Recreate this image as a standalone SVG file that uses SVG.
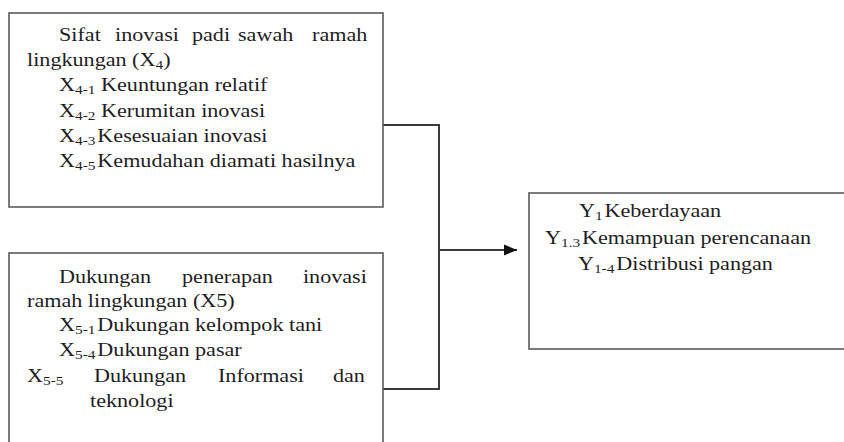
<svg xmlns="http://www.w3.org/2000/svg" width="844" height="442" viewBox="0 0 844 442">
  <defs>
    <style>
      .box { fill: #ffffff; stroke: #5a5a5a; stroke-width: 1.6; }
      .txt { font-family: "Liberation Serif", "DejaVu Serif", serif; font-size: 18px; fill: #1e1e1e; }
      .sub { font-size: 12.5px; }
      .wire { fill: none; stroke: #3a3a3a; stroke-width: 2; }
    </style>
    <marker id="arrow" markerWidth="14" markerHeight="12" refX="13" refY="6" orient="auto" markerUnits="userSpaceOnUse">
      <path d="M0,0.5 L13,6 L0,11.5 Z" fill="#111111"/>
    </marker>
  </defs>
  <rect width="844" height="442" fill="#ffffff"/>

  <!-- Connectors: both inputs merge into one arrow to the outcome box -->
  <g id="connectors">
    <polyline class="wire" points="383,125 439,125 439,389 383,389"/>
    <line class="wire" x1="439" y1="250" x2="517" y2="250" marker-end="url(#arrow)"/>
  </g>

  <!-- X4: properties of the eco-friendly rice innovation
       (text is set in a 1.23x horizontally widened frame; x values are divided by 1.23) -->
  <g id="x4">
    <rect class="box" x="9" y="13" width="374" height="194"/>
    <g class="txt" transform="scale(1.23 1)">
      <text y="41"><tspan x="48">Sifat</tspan><tspan x="93.5">inovasi</tspan><tspan x="156.1">padi</tspan><tspan x="193.5">sawah</tspan><tspan x="253.7">ramah</tspan></text>
      <text x="22" y="66">lingkungan (X<tspan class="sub" dy="3">4</tspan><tspan dy="-3">)</tspan></text>
      <text x="48" y="91">X<tspan class="sub" dy="3">4-1</tspan><tspan dy="-3"> Keuntungan  relatif</tspan></text>
      <text x="48" y="117">X<tspan class="sub" dy="3">4-2</tspan><tspan dy="-3"> Kerumitan  inovasi</tspan></text>
      <text x="48" y="142">X<tspan class="sub" dy="3">4-3</tspan><tspan dx="1.5" dy="-3">Kesesuaian inovasi</tspan></text>
      <text x="48" y="167">X<tspan class="sub" dy="3">4-5</tspan><tspan dx="1.5" dy="-3">Kemudahan diamati hasilnya</tspan></text>
    </g>
  </g>

  <!-- X5: support for applying the innovation -->
  <g id="x5">
    <rect class="box" x="9" y="253" width="374" height="200"/>
    <g class="txt" transform="scale(1.23 1)">
      <text y="283"><tspan x="48">Dukungan</tspan><tspan x="148">penerapan</tspan><tspan x="246.3">inovasi</tspan></text>
      <text x="22" y="307">ramah lingkungan (X5)</text>
      <text x="48" y="331">X<tspan class="sub" dy="3">5-1</tspan><tspan dx="1.5" dy="-3">Dukungan kelompok tani</tspan></text>
      <text x="48" y="356">X<tspan class="sub" dy="3">5-4</tspan><tspan dx="1.5" dy="-3">Dukungan pasar</tspan></text>
      <text y="382"><tspan x="22">X</tspan><tspan class="sub" dy="3">5-5</tspan><tspan x="76.4" dy="-3">Dukungan</tspan><tspan x="177.2">Informasi</tspan><tspan x="270.7">dan</tspan></text>
      <text x="73.2" y="407">teknologi</text>
    </g>
  </g>

  <!-- Y1: empowerment outcome -->
  <g id="y1">
    <rect class="box" x="529" y="193" width="330" height="156"/>
    <g class="txt" transform="scale(1.23 1)">
      <text x="470.7" y="217">Y<tspan class="sub" dy="3">1</tspan><tspan dx="1.5" dy="-3">Keberdayaan</tspan></text>
      <text x="443.1" y="244">Y<tspan class="sub" dy="3">1.3</tspan><tspan dx="1.5" dy="-3">Kemampuan perencanaan</tspan></text>
      <text x="469.9" y="270">Y<tspan class="sub" dy="3">1-4</tspan><tspan dx="1.5" dy="-3">Distribusi pangan</tspan></text>
    </g>
  </g>
</svg>
